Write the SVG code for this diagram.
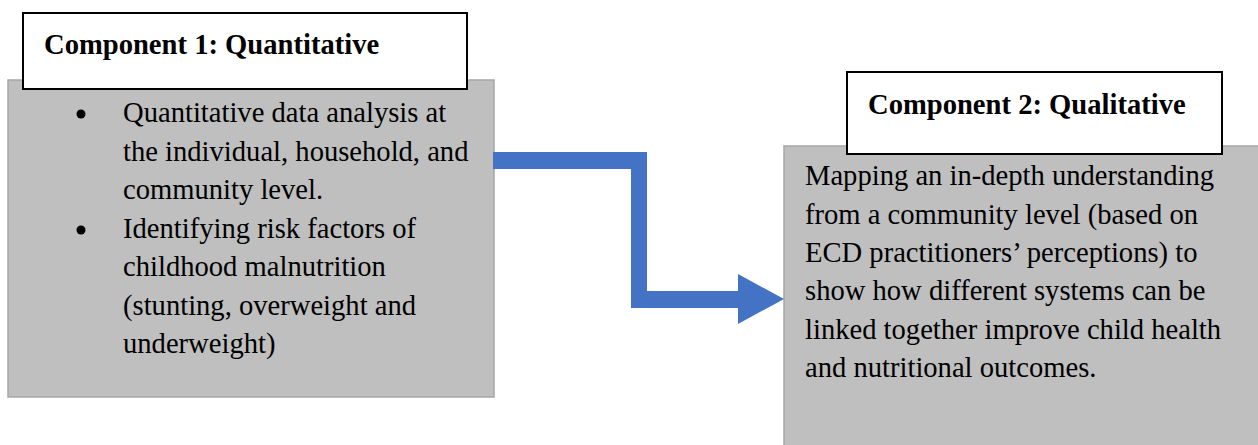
<svg xmlns="http://www.w3.org/2000/svg" width="1258" height="445" viewBox="0 0 1258 445">
<style>
.panel{fill:#bfbfbf;stroke:#a6a6a6;stroke-width:1.5}
.title{fill:#ffffff;stroke:#000000;stroke-width:2}
.ttxt{font-family:"Liberation Serif",serif;font-weight:bold;font-size:28.6px;fill:#000}
.body{font-family:"Liberation Serif",serif;font-size:28.6px;fill:#000}
</style>
<rect width="1258" height="445" fill="#ffffff"/>
<g id="component1">
<rect class="panel" x="8" y="80" width="486" height="317"/>
<rect class="title" x="23" y="13" width="444" height="76"/>
<text class="ttxt" x="44" y="54">Component 1: Quantitative</text>
<circle cx="81" cy="114" r="4.5" fill="#000"/>
<circle cx="81" cy="230" r="4.5" fill="#000"/>
<text class="body">
<tspan x="123" y="122">Quantitative data analysis at</tspan>
<tspan x="123" y="160.5">the individual, household, and</tspan>
<tspan x="123" y="199">community level.</tspan>
<tspan x="123" y="238">Identifying risk factors of</tspan>
<tspan x="123" y="276">childhood malnutrition</tspan>
<tspan x="123" y="314.5">(stunting, overweight and</tspan>
<tspan x="123" y="352.5">underweight)</tspan>
</text>
</g>
<g id="component2">
<rect class="panel" x="784" y="146" width="480" height="305"/>
<rect class="title" x="847" y="72" width="375" height="82"/>
<text class="ttxt" x="868" y="114">Component 2: Qualitative</text>
<text class="body">
<tspan x="805" y="185">Mapping an in-depth understanding</tspan>
<tspan x="805" y="223.5">from a community level (based on</tspan>
<tspan x="805" y="262">ECD practitioners’ perceptions) to</tspan>
<tspan x="805" y="300">show how different systems can be</tspan>
<tspan x="805" y="338.5">linked together improve child health</tspan>
<tspan x="805" y="377">and nutritional outcomes.</tspan>
</text>
</g>
<g id="connectors">
<path d="M493 152 H647 V291 H738 V274 L784 299 L738 324 V308 H631 V169 H493 Z" fill="#4472c4"/>
</g>
</svg>
